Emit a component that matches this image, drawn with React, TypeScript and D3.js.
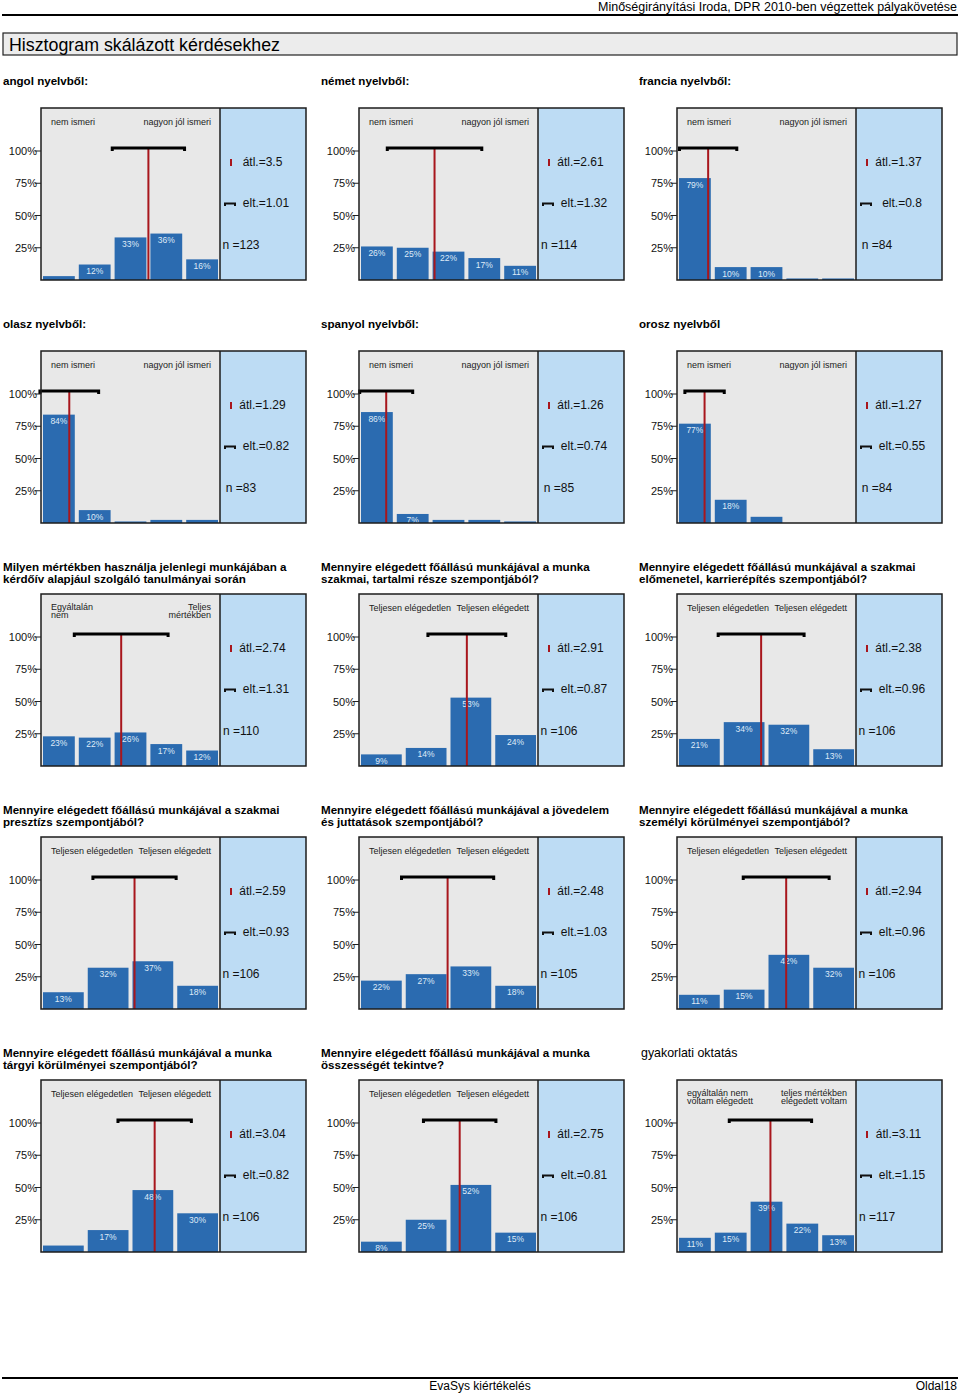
import React from "react";
import * as d3 from "d3";

const FONT = "'Liberation Sans', Arial, Helvetica, sans-serif";

const headerText = "Minőségirányítási Iroda, DPR 2010-ben végzettek pályakövetése";
const pageTitle = "Hisztogram skálázott kérdésekhez";
const footerCenter = "EvaSys kiértékelés";
const footerRight = "Oldal18";

const questionTitles: string[][] = [
  ["angol nyelvből:"],
  ["német nyelvből:"],
  ["francia nyelvből:"],
  ["olasz nyelvből:"],
  ["spanyol nyelvből:"],
  ["orosz nyelvből"],
  ["Milyen mértékben használja jelenlegi munkájában a", "kérdőív alapjául szolgáló tanulmányai során"],
  ["Mennyire elégedett főállású munkájával a munka", "szakmai, tartalmi része szempontjából?"],
  ["Mennyire elégedett főállású munkájával a szakmai", "előmenetel, karrierépítés szempontjából?"],
  ["Mennyire elégedett főállású munkájával a szakmai", "presztízs szempontjából?"],
  ["Mennyire elégedett főállású munkájával a jövedelem", "és juttatások szempontjából?"],
  ["Mennyire elégedett főállású munkájával a munka", "személyi körülményei szempontjából?"],
  ["Mennyire elégedett főállású munkájával a munka", "tárgyi körülményei szempontjából?"],
  ["Mennyire elégedett főállású munkájával a munka", "összességét tekintve?"],
  ["gyakorlati oktatás"],
];
const boldTitle = [true, true, true, true, true, true, true, true, true, true, true, true, true, true, false];

const leftAnchors: string[][] = [
  ["nem ismeri"], ["nem ismeri"], ["nem ismeri"],
  ["nem ismeri"], ["nem ismeri"], ["nem ismeri"],
  ["Egyáltalán", "nem"], ["Teljesen elégedetlen"], ["Teljesen elégedetlen"],
  ["Teljesen elégedetlen"], ["Teljesen elégedetlen"], ["Teljesen elégedetlen"],
  ["Teljesen elégedetlen"], ["Teljesen elégedetlen"], ["egyáltalán nem", "voltam elégedett"],
];
const rightAnchors: string[][] = [
  ["nagyon jól ismeri"], ["nagyon jól ismeri"], ["nagyon jól ismeri"],
  ["nagyon jól ismeri"], ["nagyon jól ismeri"], ["nagyon jól ismeri"],
  ["Teljes", "mértékben"], ["Teljesen elégedett"], ["Teljesen elégedett"],
  ["Teljesen elégedett"], ["Teljesen elégedett"], ["Teljesen elégedett"],
  ["Teljesen elégedett"], ["Teljesen elégedett"], ["teljes mértékben", "elégedett voltam"],
];

// percentages per answer category
const angolValues = [3, 12, 33, 36, 16];
const nemetValues = [26, 25, 22, 17, 11];
const franciaValues = [79, 10, 10, 1.2, 1.2];
const olaszValues = [84, 10, 1.2, 2.4, 2.4];
const spanyolValues = [86, 7, 2.4, 2.4, 1.2];
const oroszValues = [77, 18, 4.8, 0, 0];
const hasznalatValues = [23, 22, 26, 17, 12];
const tartalomValues = [9, 14, 53, 24];
const karrierValues = [21, 34, 32, 13];
const presztizsValues = [13, 32, 37, 18];
const jovedelemValues = [22, 27, 33, 18];
const szemelyiValues = [11, 15, 42, 32];
const targyiValues = [5, 17, 48, 30];
const osszesValues = [8, 25, 52, 15];
const gyakorlatiValues = [11, 15, 39, 22, 13];

const panelValues = [
  angolValues, nemetValues, franciaValues,
  olaszValues, spanyolValues, oroszValues,
  hasznalatValues, tartalomValues, karrierValues,
  presztizsValues, jovedelemValues, szemelyiValues,
  targyiValues, osszesValues, gyakorlatiValues,
];

const meanValues = [3.5, 2.61, 1.37, 1.29, 1.26, 1.27, 2.74, 2.91, 2.38, 2.59, 2.48, 2.94, 3.04, 2.75, 3.11];
const meanLabels = ["3.5", "2.61", "1.37", "1.29", "1.26", "1.27", "2.74", "2.91", "2.38", "2.59", "2.48", "2.94", "3.04", "2.75", "3.11"];
const sdValues = [1.01, 1.32, 0.8, 0.82, 0.74, 0.55, 1.31, 0.87, 0.96, 0.93, 1.03, 0.96, 0.82, 0.81, 1.15];
const sdLabels = ["1.01", "1.32", "0.8", "0.82", "0.74", "0.55", "1.31", "0.87", "0.96", "0.93", "1.03", "0.96", "0.82", "0.81", "1.15"];
const nValues = [123, 114, 84, 83, 85, 84, 110, 106, 106, 106, 105, 106, 106, 106, 117];

const yTicks = [25, 50, 75, 100];

const COL_X = [0, 318, 636];
const ROW_Y = [108, 351, 594, 837, 1080];

const GREY = "#e8e8e8";
const BLUE_BG = "#bddcf4";
const BAR = "#2b6bb0";
const RED = "#a8161c";
const FRAME = "#1c1c1c";

function Panel({ idx }: { idx: number }) {
  const x0 = COL_X[idx % 3];
  const y0 = ROW_Y[Math.floor(idx / 3)];
  const values = panelValues[idx];
  const k = values.length;
  const gx0 = x0 + 41;
  const gx1 = x0 + 220;
  const rx1 = x0 + 306;
  const yBottom = y0 + 172;

  const xBand = d3.scaleBand<number>().domain(d3.range(k)).range([gx0, gx1]).padding(0);
  const step = xBand.step();
  const xVal = d3.scaleLinear().domain([1, k]).range([gx0 + step / 2, gx1 - step / 2]);
  const y = d3.scaleLinear().domain([0, 100]).range([yBottom, y0 + 43]);

  const mean = meanValues[idx];
  const sd = sdValues[idx];
  const bx1 = xVal(mean - sd);
  const bx2 = xVal(mean + sd);
  const by = y0 + 40;
  const title = questionTitles[idx];
  const titleX = x0 + (idx === 14 ? 641 - 636 : 3);
  const left = leftAnchors[idx];
  const right = rightAnchors[idx];
  const anchorBase = left.length > 1 || right.length > 1 ? y0 + 15.5 : y0 + 17;

  return (
    <g>
      {title.map((t, i) => (
        <text
          key={i}
          x={titleX}
          y={title.length === 1 ? y0 - 23 : y0 - 23 + i * 11.5}
          fontSize={boldTitle[idx] ? 11.6 : 12.4}
          fontWeight={boldTitle[idx] ? "bold" : "normal"}
          fill="#000"
        >
          {t}
        </text>
      ))}
      <rect x={gx0} y={y0} width={gx1 - gx0} height={yBottom - y0} fill={GREY} />
      <rect x={gx1} y={y0} width={rx1 - gx1} height={yBottom - y0} fill={BLUE_BG} />
      {left.map((t, i) => (
        <text key={"l" + i} x={x0 + 51} y={anchorBase + i * 8.8} fontSize={9} fill="#222">
          {t}
        </text>
      ))}
      {right.map((t, i) => (
        <text key={"r" + i} x={x0 + 211} y={anchorBase + i * 8.8} fontSize={9} fill="#222" textAnchor="end">
          {t}
        </text>
      ))}
      {values.map((v, i) =>
        v > 0 ? (
          <g key={"b" + i}>
            <rect
              x={(xBand(i) as number) + 2}
              y={y(v)}
              width={step - 4}
              height={yBottom - y(v)}
              fill={BAR}
            />
            {v >= 6 ? (
              <text
                x={(xBand(i) as number) + step / 2}
                y={y(v) + 9.5}
                fontSize={8.5}
                fill="#dfeaf7"
                textAnchor="middle"
              >
                {Math.round(v) + "%"}
              </text>
            ) : null}
          </g>
        ) : null
      )}
      <line x1={xVal(mean)} x2={xVal(mean)} y1={by} y2={yBottom} stroke={RED} strokeWidth={2} />
      <path
        d={`M${bx1},${by + 3}V${by}H${bx2}V${by + 3}`}
        fill="none"
        stroke="#000"
        strokeWidth={3}
      />
      <rect x={gx0} y={y0} width={rx1 - gx0} height={yBottom - y0} fill="none" stroke={FRAME} strokeWidth={1.5} />
      <line x1={gx1} x2={gx1} y1={y0} y2={yBottom} stroke={FRAME} strokeWidth={1.5} />
      {yTicks.map((t) => (
        <g key={"t" + t}>
          <line x1={gx0 - 6} x2={gx0} y1={y(t)} y2={y(t)} stroke="#222" strokeWidth={1} />
          <text x={gx0 - 4} y={y(t) + 4} fontSize={11} textAnchor="end" fill="#111">
            {t + "%"}
          </text>
        </g>
      ))}
      <line x1={x0 + 231} x2={x0 + 231} y1={y0 + 51} y2={y0 + 58} stroke={RED} strokeWidth={2} />
      <text x={x0 + 262.5} y={y0 + 57.5} fontSize={12} textAnchor="middle" fill="#111">
        {"átl.=" + meanLabels[idx]}
      </text>
      <path
        d={`M${x0 + 225},${y0 + 98}V${y0 + 95.5}H${x0 + 235}V${y0 + 98}`}
        fill="none"
        stroke="#111"
        strokeWidth={2}
      />
      <text x={x0 + 266} y={y0 + 99} fontSize={12} textAnchor="middle" fill="#111">
        {"elt.=" + sdLabels[idx]}
      </text>
      <text x={x0 + 241} y={y0 + 141} fontSize={12} textAnchor="middle" fill="#111">
        {"n =" + nValues[idx]}
      </text>
    </g>
  );
}

export default function App() {
  return (
    <svg
      width={960}
      height={1395}
      style={{ position: "absolute", left: 0, top: 0, background: "#fff" }}
      fontFamily={FONT}
    >
      <rect x={0} y={0} width={960} height={1395} fill="#fff" />
      <text x={957} y={10.5} fontSize={12} textAnchor="end" textLength={359} lengthAdjust="spacingAndGlyphs">
        {headerText}
      </text>
      <line x1={2} x2={958} y1={15} y2={15} stroke="#000" strokeWidth={2} />
      <rect x={3} y={33} width={954} height={22} fill="#ececec" stroke="#222" strokeWidth={1.2} />
      <text x={9} y={51} fontSize={17.5} textLength={271} lengthAdjust="spacingAndGlyphs">
        {pageTitle}
      </text>
      {panelValues.map((_, i) => (
        <Panel key={i} idx={i} />
      ))}
      <line x1={2} x2={958} y1={1378} y2={1378} stroke="#000" strokeWidth={2} />
      <text x={480} y={1390} fontSize={12} textAnchor="middle">
        {footerCenter}
      </text>
      <text x={957} y={1390} fontSize={12} textAnchor="end">
        {footerRight}
      </text>
    </svg>
  );
}
